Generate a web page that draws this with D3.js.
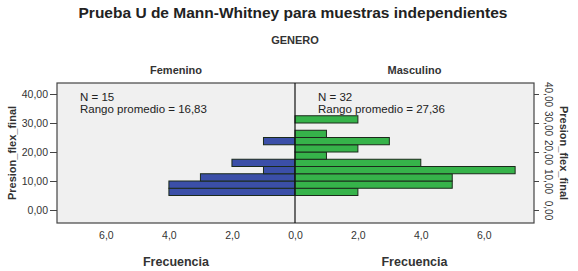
<!DOCTYPE html>
<html>
<head>
<meta charset="utf-8">
<script src="https://cdn.jsdelivr.net/npm/d3@7"></script>
<style>
  body { margin: 0; background: #fff; }
  svg { display: block; font-family: "Liberation Sans", Arial, sans-serif; }
</style>
</head>
<body>
<svg id="chart" width="578" height="271"></svg>
<script>
// bins of Presion_flex_final (width 2.5), lower edge
const binStarts = [5, 7.5, 10, 12.5, 15, 17.5, 20, 22.5, 25, 27.5, 30];
const femenino = [4, 4, 3, 1, 2, 0, 0, 1, 0, 0, 0];
const masculino = [2, 5, 5, 7, 4, 1, 2, 3, 1, 0, 2];
const yTicks = [0, 10, 20, 30, 40];
const xTicks = [0, 2, 4, 6];
const groups = ["Femenino", "Masculino"];
const stats = ["N = 15|Rango promedio = 16,83", "N = 32|Rango promedio = 27,36"];
const binWidth = 2.5;

const svg = d3.select('#chart');
const fmtY = v => d3.format(".2f")(v).replace('.', ',');
const fmtX = v => d3.format(".1f")(v).replace('.', ',');

const pTop = 83, pBottom = 223, pLeft = 57, pMid = 295, pRight = 534;

const y = d3.scaleLinear().domain([0, 40]).range([210, 94]);
const xL = d3.scaleLinear().domain([0, 7.55]).range([pMid, pLeft]);
const xR = d3.scaleLinear().domain([0, 7.6]).range([pMid, pRight]);

// plot background
svg.append('rect')
  .attr('x', pLeft).attr('y', pTop)
  .attr('width', pRight - pLeft).attr('height', pBottom - pTop)
  .attr('fill', '#f0f0f0');

// bars
const drawBars = (vals, x, color) => {
  svg.append('g').selectAll('rect')
    .data(binStarts.map((b, i) => ({b: b, v: vals[i]})).filter(d => d.v > 0))
    .join('rect')
      .attr('x', d => Math.min(x(0), x(d.v)))
      .attr('y', d => y(d.b + binWidth))
      .attr('width', d => Math.abs(x(d.v) - x(0)))
      .attr('height', d => y(d.b) - y(d.b + binWidth))
      .attr('fill', color)
      .attr('stroke', '#1b2a1b')
      .attr('stroke-width', 1);
};
drawBars(femenino, xL, '#3b4fa8');
drawBars(masculino, xR, '#36b34a');

// frame + center line
svg.append('rect')
  .attr('x', pLeft).attr('y', pTop)
  .attr('width', pRight - pLeft).attr('height', pBottom - pTop)
  .attr('fill', 'none').attr('stroke', '#444').attr('stroke-width', 1.2);
svg.append('line')
  .attr('x1', pMid).attr('x2', pMid).attr('y1', pTop).attr('y2', pBottom)
  .attr('stroke', '#111').attr('stroke-width', 1.2);

// axes
const axisStyle = g => {
  g.select('.domain').remove();
  g.selectAll('.tick line').attr('stroke', '#444');
  g.selectAll('.tick text').attr('fill', '#333').style('font-size', '10.5px');
};
svg.append('g').attr('transform', `translate(${pLeft},0)`)
  .call(d3.axisLeft(y).tickValues(yTicks).tickFormat(fmtY).tickSize(7).tickPadding(2))
  .call(axisStyle);
svg.append('g').attr('transform', `translate(0,${pBottom})`)
  .call(d3.axisBottom(xL).tickValues(xTicks).tickFormat(fmtX).tickSize(0).tickPadding(9))
  .call(axisStyle);
svg.append('g').attr('transform', `translate(0,${pBottom})`)
  .call(d3.axisBottom(xR).tickValues(xTicks.slice(1)).tickFormat(fmtX).tickSize(0).tickPadding(9))
  .call(axisStyle);

// right y axis with rotated labels
const ra = svg.append('g').attr('transform', `translate(${pRight},0)`)
  .call(d3.axisRight(y).tickValues(yTicks).tickFormat(fmtY).tickSize(5).tickPadding(0))
  .call(axisStyle);
ra.selectAll('.tick text')
  .attr('x', 0).attr('dy', null)
  .attr('text-anchor', 'middle')
  .style('font-size', '10px')
  .attr('transform', 'translate(11,0) rotate(90)');

// titles
svg.append('text').attr('x', 293).attr('y', 18).attr('text-anchor', 'middle')
  .style('font-size', '15.5px').style('font-weight', 'bold').attr('fill', '#222')
  .text('Prueba U de Mann-Whitney para muestras independientes');
svg.append('text').attr('x', 295).attr('y', 44).attr('text-anchor', 'middle')
  .style('font-size', '11px').style('font-weight', 'bold').attr('fill', '#333')
  .text('GENERO');
[ (pLeft + pMid) / 2, (pMid + pRight) / 2 ].forEach((cx, i) => {
  svg.append('text').attr('x', cx).attr('y', 74).attr('text-anchor', 'middle')
    .style('font-size', '11px').style('font-weight', 'bold').attr('fill', '#333')
    .text(groups[i]);
  svg.append('text').attr('x', cx).attr('y', 266).attr('text-anchor', 'middle')
    .style('font-size', '12.5px').style('font-weight', 'bold').attr('fill', '#333')
    .text('Frecuencia');
  const tx = i === 0 ? 80 : 318;
  const t = svg.append('text').attr('x', tx).attr('y', 101)
    .style('font-size', '11.5px').attr('fill', '#222');
  stats[i].split('|').forEach((s, j) => {
    t.append('tspan').attr('x', tx).attr('dy', j ? 12 : 0).text(s);
  });
});

svg.append('text')
  .attr('transform', `translate(16,${(pTop + pBottom) / 2}) rotate(-90)`)
  .attr('text-anchor', 'middle').style('font-size', '11px').style('font-weight', 'bold')
  .attr('fill', '#333').text('Presion_flex_final');
svg.append('text')
  .attr('transform', `translate(560,${(pTop + pBottom) / 2}) rotate(90)`)
  .attr('text-anchor', 'middle').style('font-size', '11px').style('font-weight', 'bold')
  .attr('fill', '#333').text('Presion_flex_final');
</script>
</body>
</html>
